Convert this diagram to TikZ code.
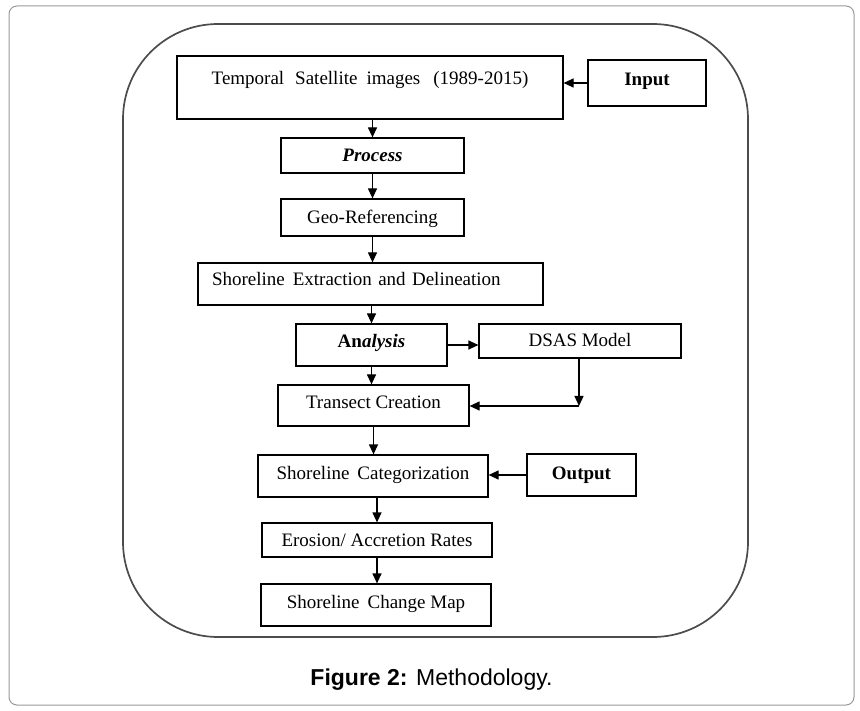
\documentclass[tikz,border=0pt]{standalone}
\usepackage{fontspec}
\setmainfont{Liberation Serif}
\newfontfamily\capfont{Liberation Sans}
\usetikzlibrary{arrows.meta}
\begin{document}
\begin{tikzpicture}[x=1pt,y=-1pt,
  box/.style={draw=black, line width=1.2pt, rectangle, inner sep=0pt,
    font=\fontsize{19}{22}\selectfont, text height=13pt},
  arr/.style={line width=1.2pt, -{Triangle[length=10pt,width=9pt]}},
  frame/.style={draw=black!70, line width=1.7pt, rounded corners=95pt},
  outer/.style={draw=black!40, line width=1pt, rounded corners=8pt}]
\useasboundingbox (0,0) rectangle (860,711);
\draw[outer] (9,6) rectangle (854,705);
\draw[frame] (123,24) rectangle (748,637);

\node[box, minimum width=386, minimum height=63, text depth=18pt] (temp) at (370,87.5)
  {Temporal\hspace{11pt}Satellite\hspace{9pt}images\hspace{13pt}(1989-2015)};
\node[box, minimum width=118, minimum height=46, text depth=7pt] (input) at (647,83)
  {\textbf{Input}};
\node[box, minimum width=183, minimum height=35, text depth=0pt] (process) at (372.5,155.5)
  {\textbf{\textit{Process}}};
\node[box, minimum width=183, minimum height=37, text depth=0pt] (geo) at (372.5,217.5)
  {Geo-Referencing};
\node[box, minimum width=345, minimum height=42, text depth=9pt, text width=317, align=left] (shore) at (370.5,284)
  {Shoreline\hspace{8pt}Extraction and Delineation};
\node[box, minimum width=151, minimum height=42, text depth=7pt] (analysis) at (371.5,345)
  {\textbf{An\textit{alysis}}};
\node[box, minimum width=202, minimum height=34, text depth=1pt] (dsas) at (580,341)
  {DSAS Model};
\node[box, minimum width=191, minimum height=41, text depth=6pt] (transect) at (373.5,405.5)
  {Transect Creation};
\node[box, minimum width=230, minimum height=42, text depth=7pt] (categ) at (373,476)
  {Shoreline\hspace{8pt}Categorization};
\node[box, minimum width=109, minimum height=42, text depth=5pt] (output) at (581.5,475)
  {\textbf{Output}};
\node[box, minimum width=230, minimum height=34, text depth=0pt] (erosion) at (377,540)
  {Erosion/\ Accretion Rates};
\node[box, minimum width=230, minimum height=42, text depth=7pt] (changemap) at (376,605)
  {Shoreline\hspace{8pt}Change Map};

\coordinate (bend) at (579,406);

\draw[arr] (process.north |- temp.south) -- (process.north);
\draw[arr] (input.west) -- (input.west -| temp.east);
\draw[arr] (process.south) -- (geo.north);
\draw[arr] (geo.south) -- (geo.south |- shore.north);
\draw[arr] (analysis.north |- shore.south) -- (analysis.north);
\draw[arr] (analysis.east) -- (analysis.east -| dsas.west);
\draw[arr] (analysis.south) -- (analysis.south |- transect.north);
\draw[arr] (dsas.south -| bend) -- (bend);
\draw[arr] (bend) -- (bend -| transect.east);
\draw[arr] (transect.south) -- (transect.south |- categ.north);
\draw[arr] (output.west) -- (output.west -| categ.east);
\draw[arr] (erosion.north |- categ.south) -- (erosion.north);
\draw[arr] (erosion.south) -- (erosion.south |- changemap.north);

\node[font=\capfont\fontsize{23}{27}\selectfont, anchor=base, inner sep=0pt] (caption) at (431.5,685)
  {\textbf{Figure 2:} Methodology.};
\end{tikzpicture}
\end{document}
